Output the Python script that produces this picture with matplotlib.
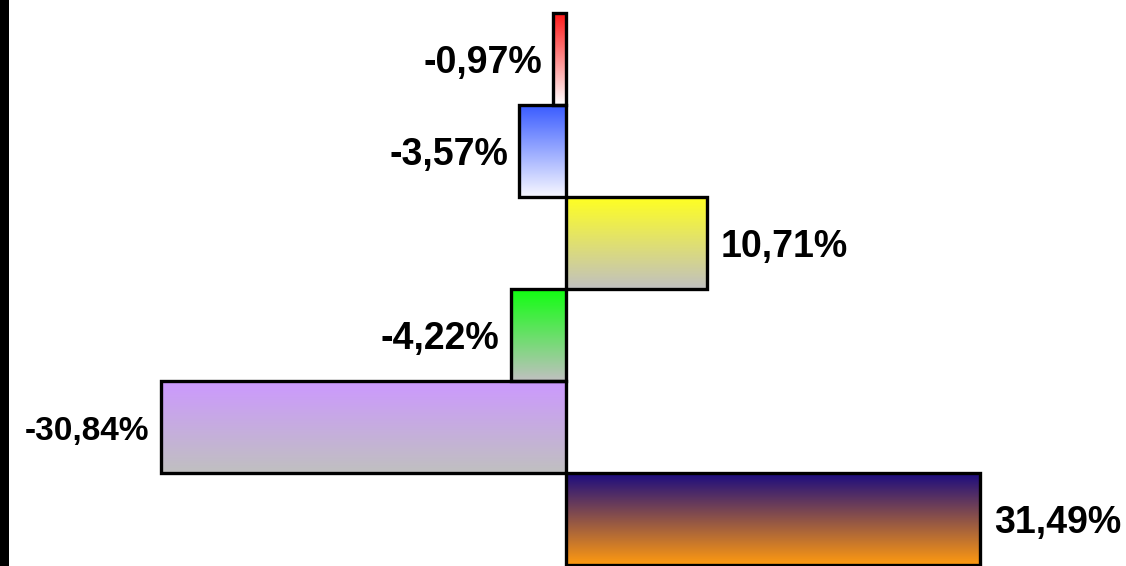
import numpy as np
import matplotlib
matplotlib.use('Agg')
import matplotlib.pyplot as plt
from matplotlib.patches import Rectangle
from matplotlib.colors import to_rgb

# valeurs des barres (de haut en bas)
vals = [-0.97, -3.57, 10.71, -4.22, -30.84, 31.49]
labels = ['-0,97%', '-3,57%', '10,71%', '-4,22%', '-30,84%', '31,49%']
top_col = ['#ff1a1a', '#3a5cff', '#ffff22', '#11ff11', '#cc99ff', '#1c0c80']
bot_col = ['#ffffff', '#f8f8ff', '#c0c0c0', '#c0c0c0', '#c0c0c0', '#ff9a10']
fsize = [27, 27, 27, 27, 24, 27]

plt.rcParams['font.family'] = ['Liberation Sans', 'DejaVu Sans']

fig = plt.figure(figsize=(11.26, 5.66), dpi=100)
ax = fig.add_axes([0, 0, 1, 1])

for i, v in enumerate(vals):
    x0, x1 = min(0, v), max(0, v)
    c0 = np.array(to_rgb(top_col[i]))
    c1 = np.array(to_rgb(bot_col[i]))
    t = np.linspace(0, 1, 100)[:, None]
    grad = (c0 * (1 - t) + c1 * t)[:, None, :]
    ax.imshow(grad, extent=(x0, x1, i + 0.5, i - 0.5), origin='upper',
              aspect='auto', interpolation='bilinear', zorder=1)
    ax.add_patch(Rectangle((x0, i - 0.5), x1 - x0, 1.0, fill=False,
                           edgecolor='black', linewidth=2.4, zorder=2))
    if v < 0:
        ax.annotate(labels[i], (x0, i), xytext=(-8, -3), textcoords='offset points',
                    ha='right', va='center', fontsize=fsize[i], fontweight='bold')
    else:
        ax.annotate(labels[i], (x1, i), xytext=(10, -3), textcoords='offset points',
                    ha='left', va='center', fontsize=fsize[i], fontweight='bold')

ax.set_xlim(-566 / 13.14, 560 / 13.14)
ax.set_ylim(553 / 92 - 0.5, -13 / 92 - 0.5)
ax.axis('off')

# bande noire a gauche
fig.patches.append(Rectangle((0, 0), 9 / 1126, 1, transform=fig.transFigure,
                             facecolor='black', edgecolor='none'))

fig.savefig('out.png', dpi=100)
